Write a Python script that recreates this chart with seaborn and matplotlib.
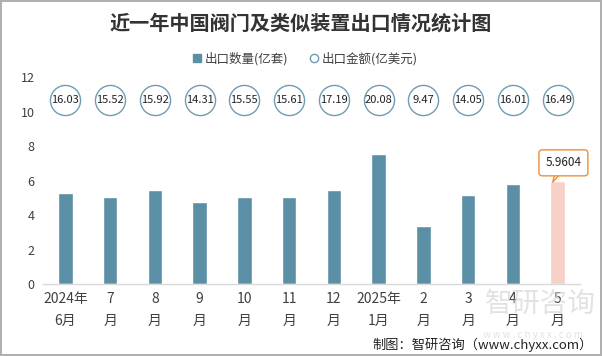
import matplotlib
matplotlib.use("Agg")
import matplotlib.pyplot as plt
import seaborn as sns
import pandas as pd
from matplotlib.lines import Line2D

months = ["2024年\n6月", "7\n月", "8\n月", "9\n月", "10\n月", "11\n月", "12\n月",
          "2025年\n1月", "2\n月", "3\n月", "4\n月", "5\n月"]
quantity = [5.30, 5.07, 5.47, 4.73, 5.02, 5.02, 5.47, 7.57, 3.39, 5.19, 5.83, 5.9604]
amount = [16.03, 15.52, 15.92, 14.31, 15.55, 15.61, 17.19, 20.08, 9.47, 14.05, 16.01, 16.49]
yticks = [0, 2, 4, 6, 8, 10, 12]

sns.set_style("white")
plt.rcParams['font.family'] = ['Noto Sans CJK SC', 'DejaVu Sans']

BAR = "#5B8FA6"
LAST = "#F7D0C8"
ORANGE = "#EE8F37"
CIRC = "#6F9CB3"
TXT = "#404040"

df = pd.DataFrame({"month": months, "quantity": quantity})
colors = [BAR] * (len(months) - 1) + [LAST]

fig = plt.figure(figsize=(6.02, 3.56), dpi=100)
fig.patch.set_facecolor("white")
fig.patch.set_edgecolor("#b0b0b0")
fig.patch.set_linewidth(1.5)
ax = fig.add_axes([0.0714, 0.2022, 0.892, 0.581])

sns.barplot(data=df, x="month", y="quantity", hue="month", palette=colors,
            legend=False, width=0.32, ax=ax, saturation=1)

# amount circles
xs = list(range(len(months)))
ax.scatter(xs, [10.65] * len(xs), s=470, facecolor="white", edgecolor=CIRC,
           linewidth=1.0, zorder=3, clip_on=False)
for x, v in zip(xs, amount):
    ax.text(x, 10.65, f"{v:.2f}", ha="center", va="center", fontsize=8,
            color="#222222", zorder=4)

# callout
ax.annotate(f"{quantity[-1]:.4f}", xy=(11 - 0.11, quantity[-1] - 0.05),
            xytext=(11.13, 7.03), ha="center", va="center", fontsize=8.5,
            color="#222222",
            bbox=dict(boxstyle="round,pad=0.55,rounding_size=0.3", fc="white",
                      ec=ORANGE, lw=1.0),
            arrowprops=dict(arrowstyle="wedge,tail_width=0.9,shrink_factor=0.5",
                            fc="white", ec=ORANGE, lw=1.0, shrinkA=0, shrinkB=0,
                            patchA=None),
            zorder=5)

ax.set_ylim(0, 12)
ax.set_xlim(-0.5, len(months) - 0.5)
ax.set_yticks(yticks)
ax.set_yticklabels([str(t) for t in yticks], fontsize=9, color=TXT)
ax.set_xticks(xs)
ax.set_xticklabels(months, fontsize=10, color=TXT, linespacing=1.7)
ax.tick_params(axis="both", length=0, pad=6)
ax.set_xlabel("")
ax.set_ylabel("")
for s in ["top", "right", "left"]:
    ax.spines[s].set_visible(False)
ax.spines["bottom"].set_color("#d9d9d9")
ax.spines["bottom"].set_linewidth(1.0)

# title
fig.text(0.5, 0.935, "近一年中国阀门及类似装置出口情况统计图", ha="center", va="center",
         fontsize=14.5, fontweight="bold", color="#333333")

# legend
handles = [
    Line2D([], [], marker="s", linestyle="none", markersize=6, markerfacecolor=BAR,
           markeredgecolor=BAR, label="出口数量(亿套)"),
    Line2D([], [], marker="o", linestyle="none", markersize=6, markerfacecolor="white",
           markeredgecolor=CIRC, label="出口金额(亿美元)"),
]
leg = fig.legend(handles=handles, loc="center", bbox_to_anchor=(0.505, 0.835), ncol=2,
                 frameon=False, fontsize=9, handletextpad=0.1, columnspacing=1.6,
                 handlelength=1.0)
for t in leg.get_texts():
    t.set_color(TXT)

# watermark
fig.text(0.898, 0.145, "智研咨询", ha="center", va="center", fontsize=20,
         color="#d0d0d0", alpha=0.6, zorder=0)
fig.text(0.885, 0.06, "w w w . c h y x x . c o m", ha="center", va="center", fontsize=7,
         color="#d0d0d0", alpha=0.6, zorder=0)

# source
fig.text(0.985, 0.03, "制图：智研咨询（www.chyxx.com）", ha="right", va="center",
         fontsize=9.5, color="#222222")

fig.savefig("out.png", dpi=100, facecolor="white", edgecolor=fig.patch.get_edgecolor())
